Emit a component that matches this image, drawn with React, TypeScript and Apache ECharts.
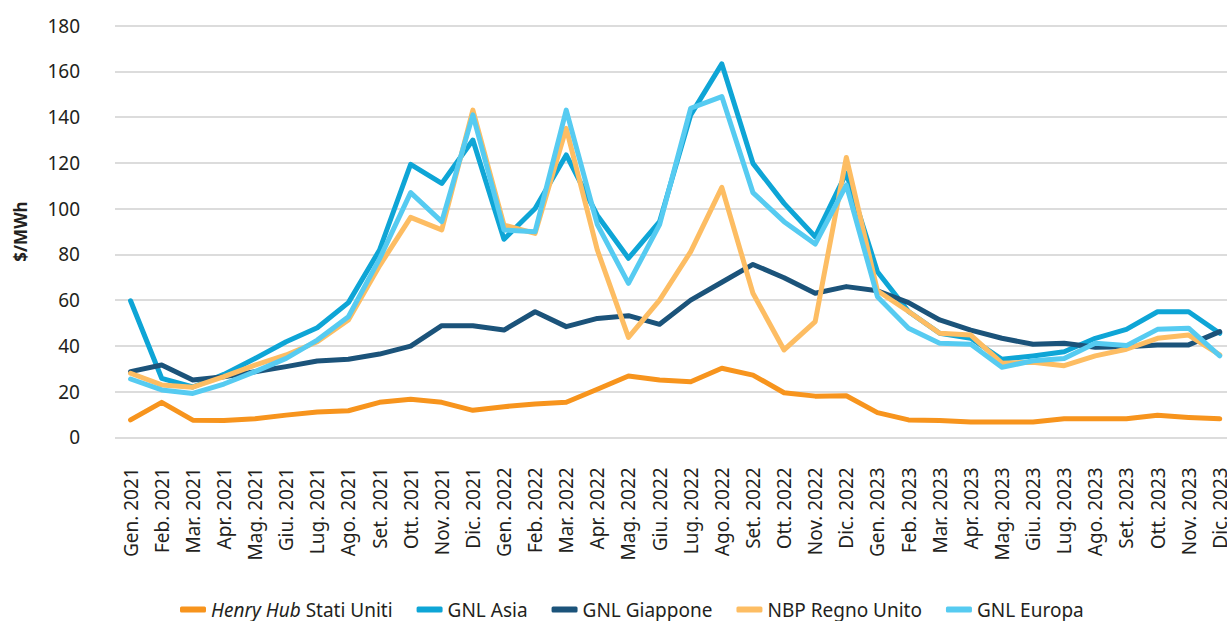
import React, { useEffect, useRef } from "react";
import * as echarts from "echarts";

const months = ["Gen.", "Feb.", "Mar.", "Apr.", "Mag.", "Giu.", "Lug.", "Ago.", "Set.", "Ott.", "Nov.", "Dic."];
const years = ["2021", "2022", "2023"];
const categories: string[] = years.flatMap((y) => months.map((m) => `${m} ${y}`));

const yTicks = [0, 20, 40, 60, 80, 100, 120, 140, 160, 180];

const henryHub = [7.6, 15.3, 7.5, 7.3, 8.1, 9.7, 11.1, 11.6, 15.3, 16.6, 15.3, 11.8, 13.4, 14.6, 15.3, 21, 26.8, 25.1, 24.3, 30.2, 27.2, 19.5, 18, 18.2, 10.8, 7.6, 7.4, 6.7, 6.7, 6.7, 8.1, 8.1, 8.1, 9.6, 8.7, 8.1];
const gnlAsia = [59.7, 25.8, 22, 27.5, 34.5, 41.8, 47.9, 58.9, 81.9, 119.4, 111, 130, 86.6, 100.1, 123.5, 97, 78.3, 94.3, 141, 163.3, 119.8, 102.3, 87.7, 115.5, 72.4, 55, 45.5, 43.3, 34.1, 35.6, 37.4, 43.3, 47.2, 54.9, 54.9, 45.5];
const gnlGiappone = [28.7, 31.6, 25.1, 26.5, 28.7, 30.9, 33.4, 34.1, 36.4, 39.9, 48.8, 48.8, 46.9, 54.9, 48.4, 52, 53.2, 49.4, 60, 67.8, 75.6, 69.8, 63, 65.9, 64.1, 58.9, 51.3, 46.9, 43.3, 40.7, 41.1, 39.4, 39.6, 40.4, 40.4, 46.2];
const nbpRegnoUnito = [28, 22.9, 21.9, 26.5, 31.6, 36, 41.8, 51.3, 75, 96.2, 90.7, 143.1, 92.8, 89.2, 135.1, 81.9, 43.7, 60, 81.2, 109.3, 63, 38.2, 50.6, 122.4, 64.1, 55, 45.5, 44.7, 32.4, 32.8, 31.3, 35.6, 38.5, 43.3, 44.7, 36];
const gnlEuropa = [25.5, 20.7, 19.2, 23.3, 28.7, 34.5, 42.5, 52.7, 78, 107, 94.3, 141, 90.7, 89.9, 143.1, 93, 67.3, 93, 143.9, 149, 107, 94.3, 84.5, 110.3, 61.5, 47.7, 41.1, 40.7, 30.6, 33.5, 34.5, 41.1, 40.1, 47.2, 47.7, 35.6];

const seriesDefs = [
  { name: "Henry Hub Stati Uniti", data: henryHub, color: "#F7941D" },
  { name: "GNL Asia", data: gnlAsia, color: "#0EA5D6" },
  { name: "GNL Giappone", data: gnlGiappone, color: "#1B537A" },
  { name: "NBP Regno Unito", data: nbpRegnoUnito, color: "#FDBD63" },
  { name: "GNL Europa", data: gnlEuropa, color: "#56CBF1" },
];

const FONT = "'Noto Sans', sans-serif";
const TEXT = "#231F20";

export default function App() {
  const ref = useRef<HTMLDivElement>(null);
  useEffect(() => {
    if (!ref.current) return;
    const chart = echarts.init(ref.current, undefined, { renderer: "svg" });
    chart.setOption({
      animation: false,
      textStyle: { fontFamily: FONT },
      grid: { left: 115, right: 14.7, top: 25.7, height: 411.6, containLabel: false },
      legend: {
        left: 175,
        top: 595,
        itemGap: 24,
        itemWidth: 26,
        itemHeight: 6,
        icon: "roundRect",
        textStyle: {
          fontFamily: FONT,
          fontSize: 19,
          color: TEXT,
          rich: { i: { fontStyle: "italic", fontSize: 19, color: TEXT, fontFamily: FONT } },
        },
        formatter: (name: string) =>
          name === "Henry Hub Stati Uniti" ? "{i|Henry Hub} Stati Uniti" : name,
        data: seriesDefs.map((s) => s.name),
      },
      xAxis: {
        type: "category",
        data: categories,
        boundaryGap: true,
        axisLine: { show: false },
        axisTick: { show: false },
        axisLabel: {
          rotate: 90,
          interval: 0,
          margin: 30,
          fontSize: 19,
          color: TEXT,
          fontFamily: FONT,
        },
      },
      yAxis: {
        type: "value",
        min: yTicks[0],
        max: yTicks[yTicks.length - 1],
        interval: 20,
        name: "$/MWh",
        nameLocation: "middle",
        nameGap: 86,
        nameRotate: 90,
        nameTextStyle: { fontSize: 17, fontWeight: "bold", color: TEXT, fontFamily: FONT },
        axisLine: { show: false },
        axisTick: { show: false },
        axisLabel: { margin: 35, fontSize: 19, color: TEXT, fontFamily: FONT },
        splitLine: { lineStyle: { color: "#D0D0D0", width: 1.5 } },
      },
      series: seriesDefs.map((s) => ({
        name: s.name,
        type: "line",
        data: s.data,
        showSymbol: false,
        symbol: "none",
        color: s.color,
        lineStyle: { width: 5, color: s.color, cap: "round", join: "round" },
      })),
    });
    return () => chart.dispose();
  }, []);
  return (
    <div style={{ position: "fixed", left: 0, top: 0, width: 1227, height: 621, overflow: "hidden", background: "#fff" }}>
      <div ref={ref} style={{ width: 1250, height: 621 }} />
    </div>
  );
}
